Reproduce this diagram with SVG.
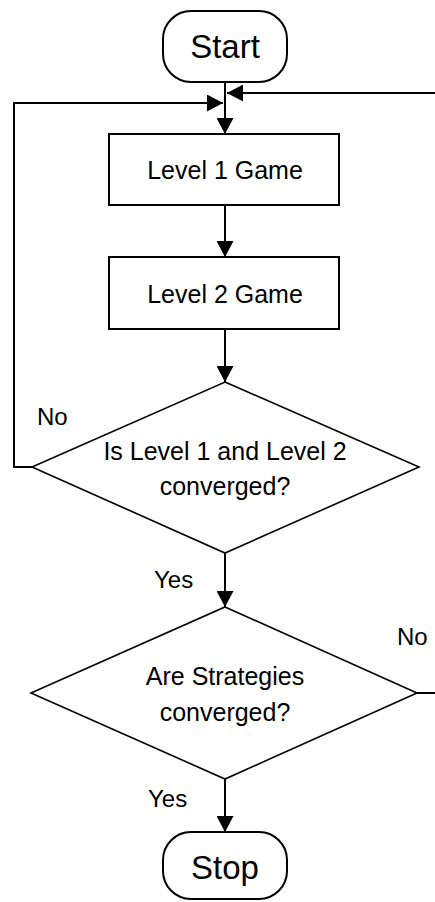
<svg xmlns="http://www.w3.org/2000/svg" width="435" height="902" viewBox="0 0 435 902">
<style>
  .shape { fill: #ffffff; stroke: #000000; stroke-width: 2; }
  .dia { fill: #ffffff; stroke: #000000; stroke-width: 1.6; }
  .conn { fill: none; stroke: #000000; stroke-width: 2; }
  text { font-family: "Liberation Sans", Arial, sans-serif; fill: #000000; }
  .t { font-size: 25px; text-anchor: middle; }
  .big { font-size: 33px; text-anchor: middle; }
  .lbl { font-size: 24px; }
</style>
<defs>
  <marker id="arr" markerUnits="userSpaceOnUse" markerWidth="17" markerHeight="17" refX="16" refY="8.5" orient="auto">
    <path d="M0,0 L16,8.5 L0,17 z" fill="#000000"/>
  </marker>
</defs>
<rect width="435" height="902" fill="#ffffff"/>
<g id="connectors">
  <path class="conn" d="M225,82 V134" marker-end="url(#arr)"/>
  <path class="conn" d="M225,205 V257" marker-end="url(#arr)"/>
  <path class="conn" d="M225,329 V382" marker-end="url(#arr)"/>
  <path class="conn" d="M225,553 V607" marker-end="url(#arr)"/>
  <path class="conn" d="M225,779 V832" marker-end="url(#arr)"/>
  <path class="conn" d="M32,467 H14 V103 H223" marker-end="url(#arr)"/>
  <path class="conn" d="M417,693 H440 V93 H227" marker-end="url(#arr)"/>
</g>
<g id="start">
  <rect class="shape" x="163" y="11" width="124" height="71" rx="28" ry="28"/>
  <text class="big" x="225" y="58">Start</text>
</g>
<g id="level1">
  <rect class="shape" x="109" y="134" width="230" height="71"/>
  <text class="t" x="225" y="179">Level 1 Game</text>
</g>
<g id="level2">
  <rect class="shape" x="109" y="257" width="230" height="72"/>
  <text class="t" x="225" y="303">Level 2 Game</text>
</g>
<g id="decision1">
  <polygon class="dia" points="225,382 419,467 225,553 32,467"/>
  <text class="t" x="225" y="460">Is Level 1 and Level 2</text>
  <text class="t" x="225" y="495">converged?</text>
</g>
<g id="decision2">
  <polygon class="dia" points="225,607 417,693 225,779 31,693"/>
  <text class="t" x="225" y="685">Are Strategies</text>
  <text class="t" x="225" y="721">converged?</text>
</g>
<g id="stop">
  <rect class="shape" x="163" y="832" width="124" height="67" rx="28" ry="28"/>
  <text class="big" x="225" y="879">Stop</text>
</g>
<g id="labels">
  <text class="lbl" x="37" y="425">No</text>
  <text class="lbl" x="154" y="588">Yes</text>
  <text class="lbl" x="397" y="645">No</text>
  <text class="lbl" x="148" y="807">Yes</text>
</g>
</svg>
